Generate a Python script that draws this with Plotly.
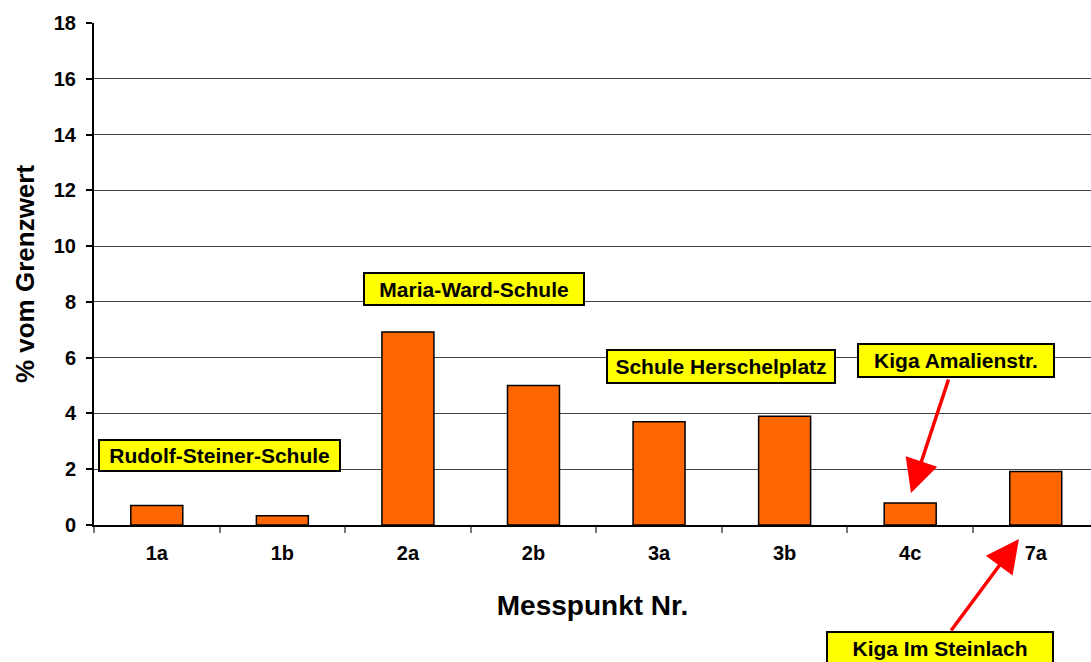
import plotly.graph_objects as go

categories = ["1a", "1b", "2a", "2b", "3a", "3b", "4c", "7a"]
values = [0.7, 0.33, 6.92, 5.0, 3.7, 3.9, 0.79, 1.92]

labels = ["Rudolf-Steiner-Schule", "Maria-Ward-Schule", "Schule Herschelplatz",
          "Kiga Amalienstr.", "Kiga Im Steinlach"]

W, H = 1091, 662
L, R, T, B = 94, 0, 23, 137
PW = W - L - R
PH = H - T - B


def px(xp):
    return (xp - L) / PW


def py(yp):
    return (H - B - yp) / PH


FONT = "Liberation Sans, Arial, sans-serif"

fig = go.Figure()
fig.add_trace(go.Bar(
    x=categories, y=values,
    marker=dict(color="#FF6600", line=dict(color="black", width=1.5)),
))

# label boxes: (center x px, center y px, width px, height px)
boxes = [
    (219, 455.5, 243, 33),
    (474, 289, 222, 34),
    (721, 366.5, 230, 35),
    (956, 360.5, 198, 35),
    (940, 648, 228, 34),
]
annotations = []
bw, bp = 2, 1
for text, (cx, cy, w, h) in zip(labels, boxes):
    annotations.append(dict(
        text="<b>" + text + "</b>", xref="paper", yref="paper",
        x=px(cx), y=py(cy), xanchor="center", yanchor="middle",
        showarrow=False, bgcolor="#FFFF00", bordercolor="black",
        borderwidth=bw, borderpad=bp,
        width=w - 2 * bw - 2 * bp, height=h - 2 * bw - 2 * bp,
        font=dict(family=FONT, size=21, color="black"),
    ))

# arrows: (head x, head y, tail x, tail y) in pixels
arrows = [(911, 493, 949, 378), (1019, 539, 950, 632)]
for hx, hy, tx, ty in arrows:
    annotations.append(dict(
        text="", xref="paper", yref="paper", x=px(hx), y=py(hy),
        ax=tx - hx, ay=ty - hy, showarrow=True,
        arrowhead=2, arrowsize=1.9, arrowwidth=3.5, arrowcolor="#FF0000",
    ))

fig.update_layout(
    width=W, height=H,
    margin=dict(l=L, r=R, t=T, b=B),
    paper_bgcolor="white", plot_bgcolor="white",
    showlegend=False, bargap=0.586,
    font=dict(family=FONT, color="black"),
    annotations=annotations,
)
fig.update_xaxes(
    range=[-0.5, 7.44], tickson="boundaries", ticks="outside", ticklen=6,
    tickcolor="#777777", tickwidth=1.5,
    showline=True, linecolor="black", linewidth=2,
    tickfont=dict(family=FONT, size=20, weight="bold"),
    ticklabelstandoff=9,
    title=dict(text="Messpunkt Nr.", font=dict(family=FONT, size=28, weight="bold"), standoff=32),
    showgrid=False,
)
fig.update_yaxes(
    range=[0, 18], dtick=2, ticks="outside", ticklen=6, tickcolor="black", tickwidth=1.5,
    showline=True, linecolor="black", linewidth=2,
    showgrid=True, gridcolor="#444444", gridwidth=1,
    zeroline=False,
    tickfont=dict(family=FONT, size=20, weight="bold"),
    ticklabelstandoff=6,
    title=dict(text="% vom Grenzwert", font=dict(family=FONT, size=26, weight="bold"), standoff=12),
)

fig.write_html(
    "out.html",
    config={"displayModeBar": False},
    post_script="document.body.style.margin='0';document.body.style.overflow='hidden';",
)
